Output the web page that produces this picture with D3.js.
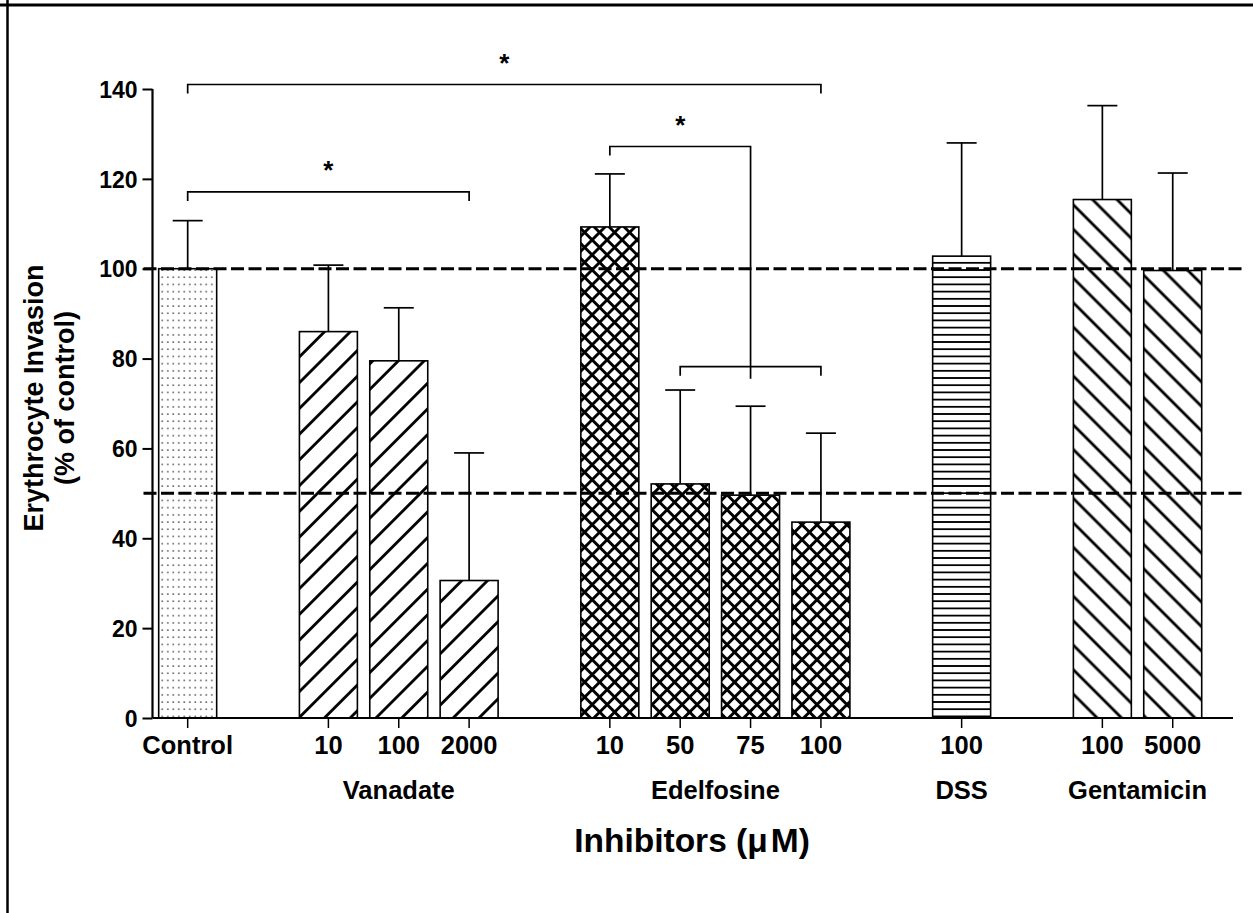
<!DOCTYPE html>
<html>
<head>
<meta charset="utf-8">
<script src="https://cdn.jsdelivr.net/npm/d3@7"></script>
<style>
  body { margin: 0; background: #fff; }
  svg { display: block; }
  text { font-family: "Liberation Sans", Arial, Helvetica, sans-serif; font-weight: bold; fill: #000; }
</style>
</head>
<body>
<svg id="chart" width="1253" height="913"></svg>
<script>
// ---- data -------------------------------------------------------------
const categories = ["Control", "Vanadate 10", "Vanadate 100", "Vanadate 2000",
  "Edelfosine 10", "Edelfosine 50", "Edelfosine 75", "Edelfosine 100",
  "DSS 100", "Gentamicin 100", "Gentamicin 5000"];
const groups = ["Control", "Vanadate", "Vanadate", "Vanadate",
  "Edelfosine", "Edelfosine", "Edelfosine", "Edelfosine",
  "DSS", "Gentamicin", "Gentamicin"];
const doseLabels = ["Control", "10", "100", "2000", "10", "50", "75", "100", "100", "100", "5000"];
const meanInvasion = [100, 86.0, 79.5, 30.6, 109.3, 52.1, 49.6, 43.6, 102.8, 115.4, 99.6];
const semInvasion = [10.7, 14.8, 11.8, 28.4, 11.8, 20.9, 19.8, 19.8, 25.2, 20.9, 21.7];
const yTicks = [0, 20, 40, 60, 80, 100, 120, 140];
const referenceLevels = [100, 50];
// x layout: category slots with empty spacers between inhibitor groups
const xSlots = ["Control", "gap-a", "Vanadate 10", "Vanadate 100", "Vanadate 2000", "gap-b",
  "Edelfosine 10", "Edelfosine 50", "Edelfosine 75", "Edelfosine 100", "gap-c",
  "DSS 100", "gap-d", "Gentamicin 100", "Gentamicin 5000"];
// significance brackets (level in % of control)
const sigBrackets = [
  { from: "Control", to: "Edelfosine 100", level: 141, label: "*" },
  { from: "Control", to: "Vanadate 2000", level: 117.1, label: "*" },
  { from: "Edelfosine 10", to: "Edelfosine 75", level: 127.2, label: "*",
    stem: { from: "Edelfosine 50", to: "Edelfosine 100", level: 78.2 } }
];

// ---- layout -----------------------------------------------------------
const svg = d3.select("#chart");
const W = 1253, H = 913;
const axisLeftX = 152.5, baseY = 718, topY = 89;
const plotRight = 1233;

svg.append("rect").attr("width", W).attr("height", H).attr("fill", "#fff");

const x = d3.scaleBand().domain(xSlots)
  .range([axisLeftX, axisLeftX + 15 * 70.36])
  .paddingInner(0.176).paddingOuter(0.088);
const y = d3.scaleLinear().domain([0, 140]).range([baseY, topY]);
const cx = c => x(c) + x.bandwidth() / 2;

// ---- fill patterns ----------------------------------------------------
const defs = svg.append("defs");
function stripes(id, period, width, angle, both) {
  const p = defs.append("pattern").attr("id", id)
    .attr("patternUnits", "userSpaceOnUse")
    .attr("width", period).attr("height", period)
    .attr("patternTransform", `rotate(${angle})`);
  p.append("rect").attr("width", period).attr("height", period).attr("fill", "#fff");
  p.append("rect").attr("x", 0).attr("y", (period - width) / 2)
    .attr("width", period).attr("height", width).attr("fill", "#000");
  if (both) {
    p.append("rect").attr("y", 0).attr("x", (period - width) / 2)
      .attr("height", period).attr("width", width).attr("fill", "#000");
  }
}
stripes("pat-fwd", 18.2, 2.8, -45, false);
stripes("pat-back", 17.3, 2.8, 45, false);
stripes("pat-cross", 10.6, 2.9, 45, true);
stripes("pat-horiz", 7.2, 1.8, 0, false);
const dots = defs.append("pattern").attr("id", "pat-dots")
  .attr("patternUnits", "userSpaceOnUse").attr("width", 5.5).attr("height", 7.2);
dots.append("rect").attr("width", 5.5).attr("height", 7.2).attr("fill", "#fff");
dots.append("rect").attr("x", 2.1).attr("y", 3.0).attr("width", 1.4).attr("height", 1.4).attr("fill", "#333");

const groupFill = {
  "Control": "url(#pat-dots)", "Vanadate": "url(#pat-fwd)", "Edelfosine": "url(#pat-cross)",
  "DSS": "url(#pat-horiz)", "Gentamicin": "url(#pat-back)"
};

// ---- frame ------------------------------------------------------------
svg.append("line").attr("x1", 0).attr("x2", W).attr("y1", 5).attr("y2", 5)
  .attr("stroke", "#000").attr("stroke-width", 3);
svg.append("line").attr("x1", 7.5).attr("x2", 7.5).attr("y1", 0).attr("y2", H)
  .attr("stroke", "#000").attr("stroke-width", 2.5);

// ---- bars & error bars ------------------------------------------------
const rows = categories.map((c, i) => ({
  cat: c, group: groups[i], mean: meanInvasion[i], sem: semInvasion[i]
}));

const err = svg.append("g").attr("stroke", "#000").attr("stroke-width", 1.7);
rows.forEach(d => {
  err.append("line").attr("x1", cx(d.cat)).attr("x2", cx(d.cat))
    .attr("y1", y(d.mean)).attr("y2", y(d.mean + d.sem));
  err.append("line").attr("x1", cx(d.cat) - 15).attr("x2", cx(d.cat) + 15)
    .attr("y1", y(d.mean + d.sem)).attr("y2", y(d.mean + d.sem));
});

svg.append("g").selectAll("rect").data(rows).join("rect")
  .attr("x", d => x(d.cat))
  .attr("width", x.bandwidth())
  .attr("y", d => y(d.mean))
  .attr("height", d => y(0) - y(d.mean))
  .attr("fill", d => groupFill[d.group])
  .attr("stroke", "#000").attr("stroke-width", 1.6);

// ---- dashed reference lines -------------------------------------------
svg.append("g").selectAll("line").data(referenceLevels).join("line")
  .attr("x1", axisLeftX - 9).attr("x2", 1243)
  .attr("y1", d => y(d)).attr("y2", d => y(d))
  .attr("stroke", "#000").attr("stroke-width", 3)
  .attr("stroke-dasharray", "13,4.5");

// ---- axes -------------------------------------------------------------
const yAxis = svg.append("g").attr("transform", `translate(${axisLeftX},0)`)
  .call(d3.axisLeft(y).tickValues(yTicks).tickSize(10).tickPadding(5));
yAxis.select(".domain").attr("stroke-width", 2.2).attr("d", `M0,${y(140)}V${baseY}`);
yAxis.selectAll(".tick line").attr("stroke-width", 2);
yAxis.selectAll(".tick text").attr("font-size", 23).attr("dy", "0.36em")
  .style("font-family", '"Liberation Sans", Arial, sans-serif').style("font-weight", "bold");

const labelOf = new Map(categories.map((c, i) => [c, doseLabels[i]]));
const xAxis = svg.append("g").attr("transform", `translate(0,${baseY})`)
  .call(d3.axisBottom(x).tickValues(categories).tickFormat(c => labelOf.get(c))
    .tickSize(10).tickPadding(8));
xAxis.select(".domain").attr("stroke-width", 2).attr("d", `M${axisLeftX},0H${plotRight}`);
xAxis.selectAll(".tick line").attr("stroke-width", 1.5);
xAxis.selectAll(".tick text").attr("font-size", 25.5)
  .style("font-family", '"Liberation Sans", Arial, sans-serif').style("font-weight", "bold");

// group names under the dose labels
const groupNames = Array.from(new Set(groups)).filter(g => g !== "Control");
svg.append("g").selectAll("text").data(groupNames).join("text")
  .attr("x", g => d3.mean(categories.filter((c, i) => groups[i] === g), cx))
  .attr("y", 799)
  .attr("text-anchor", "middle").attr("font-size", 25.5)
  .text(g => g);

// axis titles
svg.append("text").attr("x", 692).attr("y", 852).attr("text-anchor", "middle")
  .attr("font-size", 33.5)
  .call(t => {
    t.append("tspan").text("Inhibitors (μ");
    t.append("tspan").attr("dx", 3).text("M)");
  });

const yTitle = svg.append("g").attr("transform", "translate(0,398) rotate(-90)");
yTitle.append("text").attr("x", 0).attr("y", 43).attr("text-anchor", "middle")
  .attr("font-size", 27).text("Erythrocyte Invasion");
yTitle.append("text").attr("x", 0).attr("y", 74).attr("text-anchor", "middle")
  .attr("font-size", 27).text("(% of control)");

// ---- significance brackets --------------------------------------------
const drop = 9;
const br = svg.append("g").attr("fill", "none").attr("stroke", "#000").attr("stroke-width", 1.7);
sigBrackets.forEach(b => {
  const x1 = cx(b.from), x2 = cx(b.to), yy = y(b.level);
  if (b.stem) {
    const sy = y(b.stem.level);
    const sx1 = cx(b.stem.from), sx2 = cx(b.stem.to);
    br.append("path").attr("d", `M${x1},${yy + drop}V${yy}H${x2}V${sy + drop + 3}`);
    br.append("path").attr("d", `M${sx1},${sy + drop}V${sy}H${sx2}V${sy + drop}`);
  } else {
    br.append("path").attr("d", `M${x1},${yy + drop}V${yy}H${x2}V${yy + drop}`);
  }
  svg.append("text").attr("x", (x1 + x2) / 2).attr("y", yy - 13)
    .attr("text-anchor", "middle").attr("font-size", 26).text(b.label);
});
</script>
</body>
</html>
